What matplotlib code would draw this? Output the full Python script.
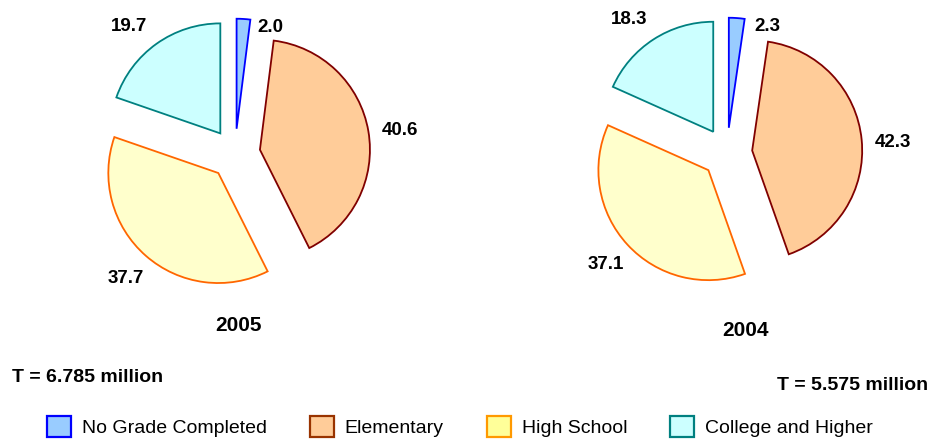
import matplotlib.pyplot as plt
from matplotlib.patches import Patch

plt.rcParams['font.family'] = ['Liberation Sans', 'DejaVu Sans']

W, H = 932, 442

categories = ["No Grade Completed", "Elementary", "High School", "College and Higher"]
share_2005 = [2.0, 40.6, 37.7, 19.7]
share_2004 = [2.3, 42.3, 37.1, 18.3]
total_2005 = "T = 6.785 million"
total_2004 = "T = 5.575 million"

pie_fill = ["#99ccff", "#ffcc99", "#ffffcc", "#ccffff"]
pie_edge = ["#0000ff", "#800000", "#ff6600", "#008080"]
leg_fill = ["#99ccff", "#ffcc99", "#ffff99", "#ccffff"]
leg_edge = ["#0000ff", "#993300", "#ff9900", "#008080"]

fig = plt.figure(figsize=(W / 100, H / 100), dpi=100)


def pie_axes(cx, cy, r, span=1.6):
    # axes placed in pixels so that radius 1 == r px
    half = span * r
    ax = fig.add_axes([(cx - half) / W, 1 - (cy + half) / H, 2 * half / W, 2 * half / H])
    return ax


def draw_pie(ax, values, year, label_pos, year_pos):
    wedges, texts = ax.pie(
        values,
        labels=[f"{v:.1f}" for v in values],
        colors=pie_fill,
        startangle=90,
        counterclock=False,
        explode=[0.23] * len(values),
        labeldistance=1.27,
        wedgeprops=dict(linewidth=1.3),
        textprops=dict(fontsize=13.5, fontweight="bold"),
        frame=True,
    )
    for w, ec in zip(wedges, pie_edge):
        w.set_edgecolor(ec)
    for t, pos in zip(texts, label_pos):
        t.set_ha("center")
        t.set_va("center")
        if pos is not None:
            t.set_position(pos)
    ax.set_xlim(-1.6, 1.6)
    ax.set_ylim(-1.6, 1.6)
    ax.set_aspect("equal")
    ax.axis("off")
    ax.text(year_pos[0], year_pos[1], year, ha="center", va="center",
            fontsize=15, fontweight="bold")


ax1 = pie_axes(235, 154, 110)
draw_pie(ax1, share_2005, "2005",
         [(0.32, 1.15), (1.5, 0.21), None, (-0.96, 1.16)], (0.03, -1.56))

ax2 = pie_axes(727, 153, 110)
draw_pie(ax2, share_2004, "2004",
         [(0.37, 1.15), (1.51, 0.10), None, (-0.89, 1.21)], (0.17, -1.61))

fig.text(12 / W, 1 - 378 / H, total_2005, ha="left", va="center",
         fontsize=14, fontweight="bold")
fig.text(928 / W, 1 - 386 / H, total_2004, ha="right", va="center",
         fontsize=14, fontweight="bold")

handles = [Patch(facecolor=f, edgecolor=e, linewidth=1.6) for f, e in zip(leg_fill, leg_edge)]
fig.legend(handles, categories, loc="upper left", bbox_to_anchor=(47 / W, 1 - 416 / H),
           ncol=4, frameon=False, fontsize=14, borderpad=0, borderaxespad=0,
           handlelength=1.25, handleheight=1.3, handletextpad=0.55, columnspacing=2.2)

fig.savefig("out.png", dpi=100)
